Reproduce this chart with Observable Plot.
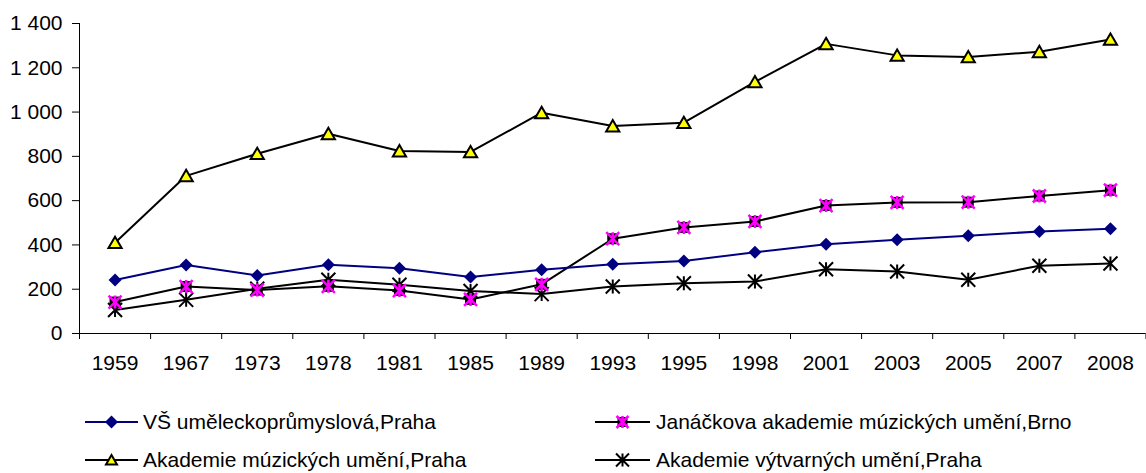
<!DOCTYPE html>
<html><head><meta charset="utf-8">
<script src="https://cdn.jsdelivr.net/npm/d3@7"></script>
<script src="https://cdn.jsdelivr.net/npm/@observablehq/plot@0.6"></script>
<style>
body{margin:0;background:#fff;font-family:"Liberation Sans",Arial,sans-serif;}
#wrap{position:relative;width:1146px;height:473px;overflow:hidden;}
.sw{position:absolute;}
.lt{position:absolute;font-size:21px;line-height:24px;color:#000;white-space:nowrap;}
</style></head><body><div id="wrap"></div>
<script>
const years = ["1959","1967","1973","1978","1981","1985","1989","1993","1995","1998","2001","2003","2005","2007","2008"];
const names = ["VŠ uměleckoprůmyslová,Praha","Janáčkova akademie múzických umění,Brno","Akademie múzických umění,Praha","Akademie výtvarných umění,Praha"];
const umprum = [242,309,262,310,295,255,288,313,327,367,403,423,441,461,473];
const jamu   = [142,212,196,213,194,154,222,428,479,506,578,592,593,621,647];
const amu    = [410,712,812,902,824,820,997,937,952,1136,1308,1256,1249,1272,1328];
const avu    = [106,152,202,243,220,192,178,212,227,235,290,280,243,306,316];
const yTicks = [0,200,400,600,800,1000,1200,1400];

const rows = vals => vals.map((v,i)=>({i, v}));
const rOf = s => Math.sqrt(s/Math.PI);
const diamond = {draw(c,s){const r=rOf(s);c.moveTo(0,-r);c.lineTo(r,0);c.lineTo(0,r);c.lineTo(-r,0);c.closePath();}};
const triangle = {draw(c,s){const r=rOf(s);c.moveTo(0,-r);c.lineTo(r*1.1,r*0.9);c.lineTo(-r*1.1,r*0.9);c.closePath();}};
const square = {draw(c,s){const r=rOf(s);c.rect(-r,-r,2*r,2*r);}};
const star = {draw(c,s){const r=rOf(s);c.moveTo(0,-r);c.lineTo(0,r);c.moveTo(-r,-r);c.lineTo(r,r);c.moveTo(-r,r);c.lineTo(r,-r);}};

const fmt = d => d3.format(",")(d).replace(/,/g, " ");
const chart = Plot.plot({
  width: 1146, height: 380,
  marginLeft: 79, marginRight: 0.5, marginTop: 23, marginBottom: 47,
  style: {fontFamily: '"Liberation Sans", Arial, sans-serif', fontSize: "21px", color: "#000", background: "#fff", overflow: "visible"},
  x: {domain: [-0.5, 14.5]},
  y: {domain: [0, 1400]},
  marks: [
    Plot.axisY({ticks: yTicks, tickSize: 7, tickPadding: 10, tickFormat: fmt, label: null, stroke: "#000"}),
    Plot.axisX({ticks: d3.range(15), tickSize: 0, tickPadding: 22, tickFormat: i => years[i], label: null}),
    Plot.axisX({ticks: d3.range(16).map(i => i - 0.5), tickSize: 6, tickFormat: () => "", label: null, stroke: "#000"}),
    Plot.ruleY([0], {stroke: "#000"}),
    Plot.ruleX([-0.5], {stroke: "#000"}),
    Plot.line(rows(avu), {x: "i", y: "v", stroke: "#000", strokeWidth: 2}),
    Plot.line(rows(jamu), {x: "i", y: "v", stroke: "#000", strokeWidth: 2}),
    Plot.line(rows(umprum), {x: "i", y: "v", stroke: "#000080", strokeWidth: 2}),
    Plot.line(rows(amu), {x: "i", y: "v", stroke: "#000", strokeWidth: 2}),
    Plot.dot(rows(avu), {x: "i", y: "v", symbol: star, r: 7, stroke: "#000", strokeWidth: 2, fill: "none"}),
    Plot.dot(rows(jamu), {x: "i", y: "v", symbol: square, r: 5.5, fill: "#000", stroke: "none"}),
    Plot.dot(rows(jamu), {x: "i", y: "v", symbol: star, r: 6.5, stroke: "#ff00ff", strokeWidth: 2.5, fill: "none"}),
    Plot.dot(rows(umprum), {x: "i", y: "v", symbol: diamond, r: 6.5, fill: "#000080", stroke: "none"}),
    Plot.dot(rows(amu), {x: "i", y: "v", symbol: triangle, r: 6, fill: "#ffff00", stroke: "#000", strokeWidth: 2})
  ]
});
const wrap = document.getElementById("wrap");
wrap.appendChild(chart);

// legend
const legend = [
  {name: names[0], line: "#000080", col: 0, row: 0, m: [{sym: diamond, r: 6.5, fill: "#000080", stroke: "none", sw: 0}]},
  {name: names[1], line: "#000", col: 1, row: 0, m: [{sym: square, r: 5, fill: "#000", stroke: "none", sw: 0}, {sym: star, r: 6, fill: "none", stroke: "#ff00ff", sw: 2.5}]},
  {name: names[2], line: "#000", col: 0, row: 1, m: [{sym: triangle, r: 5, fill: "#ffff00", stroke: "#000", sw: 2}]},
  {name: names[3], line: "#000", col: 1, row: 1, m: [{sym: star, r: 6.5, fill: "none", stroke: "#000", sw: 2}]}
];
const colX = [{x0: 85, x1: 138, tx: 143}, {x0: 595, x1: 650, tx: 656}];
const rowY = [422, 460];
legend.forEach(it => {
  const c = colX[it.col], cy = rowY[it.row];
  const w = c.x1 - c.x0, h = 24;
  const svg = d3.create("svg").attr("class", "sw").attr("width", w).attr("height", h)
    .style("left", c.x0 + "px").style("top", (cy - h/2) + "px").style("overflow", "visible");
  svg.append("line").attr("x1", 0).attr("x2", w).attr("y1", h/2).attr("y2", h/2).attr("stroke", it.line).attr("stroke-width", 2);
  it.m.forEach(m => {
    svg.append("path").attr("transform", `translate(${w/2},${h/2})`)
      .attr("d", d3.symbol(m.sym, m.r * m.r * Math.PI)())
      .attr("fill", m.fill).attr("stroke", m.stroke).attr("stroke-width", m.sw);
  });
  wrap.appendChild(svg.node());
  const t = document.createElement("div");
  t.className = "lt";
  t.textContent = it.name;
  t.style.left = c.tx + "px";
  t.style.top = (cy - 12) + "px";
  wrap.appendChild(t);
});
</script></body></html>
